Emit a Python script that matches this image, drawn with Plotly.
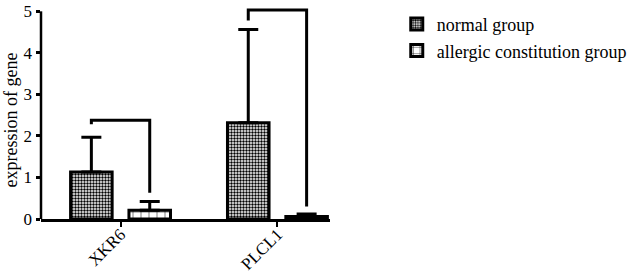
import plotly.graph_objects as go

categories = ["XKR6", "PLCL1"]
normal_vals = [1.13, 2.32]
normal_err = [0.84, 2.24]
allergic_vals = [0.21, 0.06]
allergic_err = [0.21, 0.06]
series_names = ["normal group", "allergic constitution group"]
y_ticks = [0, 1, 2, 3, 4, 5]
# significance brackets: [top, left end, right end] per category
bracket_top = [2.38, 5.03]
bracket_left_end = [2.28, 4.78]
bracket_right_end = [0.63, 0.30]

FONT = "'Liberation Serif', 'Times New Roman', 'DejaVu Serif', serif"
FS = 18
BARGAP = 0.256
GROUPGAP = 0.288
xpos = list(range(len(categories)))

fig = go.Figure()
fig.add_trace(go.Bar(
    x=xpos, y=normal_vals, name=series_names[0],
    marker=dict(color="white", line=dict(color="black", width=3),
                pattern=dict(shape=".", size=3, solidity=0.5, fgcolor="black", bgcolor="white", fillmode="replace")),
    error_y=dict(type="data", array=normal_err, arrayminus=[0]*len(normal_err), symmetric=False,
                 color="black", thickness=3, width=10),
))
fig.add_trace(go.Bar(
    x=xpos, y=allergic_vals, name=series_names[1],
    marker=dict(color="white", line=dict(color="black", width=3),
                pattern=dict(shape="+", size=8, solidity=0.12, fgcolor="black", bgcolor="white", fillmode="replace")),
    error_y=dict(type="data", array=allergic_err, arrayminus=[0]*len(allergic_err), symmetric=False,
                 color="black", thickness=3, width=10),
))

off = (1 - BARGAP) / 4
for i in range(len(categories)):
    xl = xpos[i] - off
    xr = xpos[i] + off
    fig.add_shape(type="path",
                  path=f"M {xl},{bracket_left_end[i]} L {xl},{bracket_top[i]} L {xr},{bracket_top[i]} L {xr},{bracket_right_end[i]}",
                  xref="x", yref="y", line=dict(color="black", width=3))

# y axis line only up to 5
fig.add_shape(type="line", xref="paper", yref="y", x0=0, x1=0, y0=0, y1=5,
              line=dict(color="black", width=2.5))

fig.add_annotation(text="expression of gene", textangle=-90, xref="paper", yref="paper",
                   x=-0.102, y=0.469, xanchor="center", yanchor="middle", showarrow=False,
                   font=dict(family=FONT, size=FS, color="black"))

fig.update_layout(
    width=635, height=279,
    margin=dict(l=41, r=305, t=8, b=60, autoexpand=False),
    paper_bgcolor="white", plot_bgcolor="white",
    barmode="group", bargap=BARGAP, bargroupgap=GROUPGAP,
    font=dict(family=FONT, size=FS, color="black"),
    showlegend=True,
    legend=dict(x=1.231, y=1.01, xanchor="left", yanchor="top", font=dict(family=FONT, size=FS),
                bgcolor="rgba(0,0,0,0)", tracegroupgap=0),
)
fig.update_xaxes(range=[-0.507, 1.335], tickmode="array", tickvals=xpos, ticktext=categories,
                 tickangle=-45, showline=True, linecolor="black", linewidth=2.5, automargin=False,
                 ticks="outside", ticklen=5, tickwidth=2, tickcolor="black",
                 ticklabelstandoff=-9,
                 showgrid=False, zeroline=False, tickfont=dict(family=FONT, size=17))
fig.update_yaxes(range=[0, 5.08], tickvals=y_ticks, showline=False, automargin=False,
                 ticks="outside", ticklen=4.5, tickwidth=2.5, tickcolor="black",
                 ticklabeloverflow="allow",
                 showgrid=False, zeroline=False, tickfont=dict(family=FONT, size=17))

fig.write_html("out.html", config={"displayModeBar": False},
               post_script="document.body.style.margin='0';")
